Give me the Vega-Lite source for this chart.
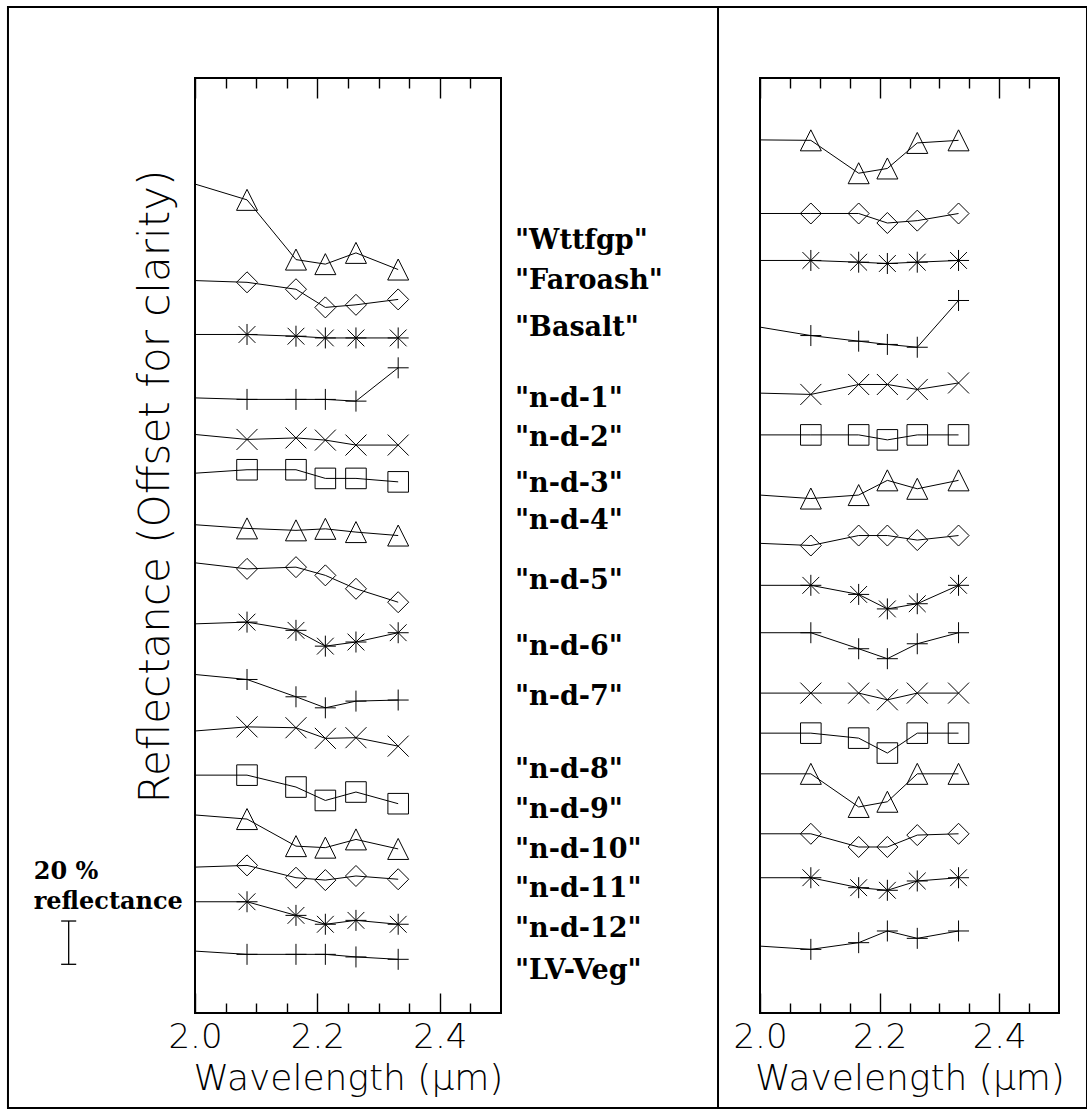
{
  "$schema": "https://vega.github.io/schema/vega-lite/v6.json",
  "background": "white",
  "padding": {"left": 5, "top": 5, "right": 1, "bottom": 2},
  "bounds": "flush",
  "spacing": 259,
  "config": {
    "view": {"stroke": "black", "strokeWidth": 2},
    "axis": {
      "grid": false, "domain": false,
      "labelFont": "DejaVu Sans", "labelFontWeight": 200, "labelFontSize": 34, "labelColor": "black",
      "titleFont": "DejaVu Sans", "titleFontWeight": 200, "titleFontSize": 36, "titleColor": "black",
      "tickColor": "black", "tickWidth": 1.4
    }
  },
  "datasets": {
    "left": [
      {"sample":"Wttfgp","sym":"tri","wl":2.0,"r":383.0},{"sample":"Wttfgp","sym":"tri","wl":2.085,"r":375.7},{"sample":"Wttfgp","sym":"tri","wl":2.165,"r":348.1},{"sample":"Wttfgp","sym":"tri","wl":2.213,"r":346.0},{"sample":"Wttfgp","sym":"tri","wl":2.263,"r":351.2},{"sample":"Wttfgp","sym":"tri","wl":2.332,"r":343.5},
      {"sample":"Faroash","sym":"dia","wl":2.0,"r":338.4},{"sample":"Faroash","sym":"dia","wl":2.085,"r":337.6},{"sample":"Faroash","sym":"dia","wl":2.165,"r":334.4},{"sample":"Faroash","sym":"dia","wl":2.213,"r":326.0},{"sample":"Faroash","sym":"dia","wl":2.263,"r":327.2},{"sample":"Faroash","sym":"dia","wl":2.332,"r":329.7},
      {"sample":"Basalt","sym":"ast","wl":2.0,"r":313.5},{"sample":"Basalt","sym":"ast","wl":2.085,"r":313.5},{"sample":"Basalt","sym":"ast","wl":2.165,"r":312.7},{"sample":"Basalt","sym":"ast","wl":2.213,"r":311.9},{"sample":"Basalt","sym":"ast","wl":2.263,"r":311.9},{"sample":"Basalt","sym":"ast","wl":2.332,"r":311.9},
      {"sample":"n-d-1","sym":"plus","wl":2.0,"r":284.2},{"sample":"n-d-1","sym":"plus","wl":2.085,"r":283.5},{"sample":"n-d-1","sym":"plus","wl":2.165,"r":283.5},{"sample":"n-d-1","sym":"plus","wl":2.213,"r":283.5},{"sample":"n-d-1","sym":"plus","wl":2.263,"r":282.7},{"sample":"n-d-1","sym":"plus","wl":2.332,"r":298.1},
      {"sample":"n-d-2","sym":"x","wl":2.0,"r":267.3},{"sample":"n-d-2","sym":"x","wl":2.085,"r":265.0},{"sample":"n-d-2","sym":"x","wl":2.165,"r":265.7},{"sample":"n-d-2","sym":"x","wl":2.213,"r":264.7},{"sample":"n-d-2","sym":"x","wl":2.263,"r":262.4},{"sample":"n-d-2","sym":"x","wl":2.332,"r":262.4},
      {"sample":"n-d-3","sym":"sq","wl":2.0,"r":249.4},{"sample":"n-d-3","sym":"sq","wl":2.085,"r":251.0},{"sample":"n-d-3","sym":"sq","wl":2.165,"r":251.0},{"sample":"n-d-3","sym":"sq","wl":2.213,"r":247.0},{"sample":"n-d-3","sym":"sq","wl":2.263,"r":247.0},{"sample":"n-d-3","sym":"sq","wl":2.332,"r":245.4},
      {"sample":"n-d-4","sym":"tri","wl":2.0,"r":225.6},{"sample":"n-d-4","sym":"tri","wl":2.085,"r":223.9},{"sample":"n-d-4","sym":"tri","wl":2.165,"r":223.0},{"sample":"n-d-4","sym":"tri","wl":2.213,"r":223.7},{"sample":"n-d-4","sym":"tri","wl":2.263,"r":222.2},{"sample":"n-d-4","sym":"tri","wl":2.332,"r":220.6},
      {"sample":"n-d-5","sym":"dia","wl":2.0,"r":208.0},{"sample":"n-d-5","sym":"dia","wl":2.085,"r":205.2},{"sample":"n-d-5","sym":"dia","wl":2.165,"r":206.0},{"sample":"n-d-5","sym":"dia","wl":2.213,"r":202.2},{"sample":"n-d-5","sym":"dia","wl":2.263,"r":196.0},{"sample":"n-d-5","sym":"dia","wl":2.332,"r":189.8},
      {"sample":"n-d-6","sym":"ast","wl":2.0,"r":179.8},{"sample":"n-d-6","sym":"ast","wl":2.085,"r":180.6},{"sample":"n-d-6","sym":"ast","wl":2.165,"r":176.8},{"sample":"n-d-6","sym":"ast","wl":2.213,"r":169.5},{"sample":"n-d-6","sym":"ast","wl":2.263,"r":171.4},{"sample":"n-d-6","sym":"ast","wl":2.332,"r":175.7},
      {"sample":"n-d-7","sym":"plus","wl":2.0,"r":156.4},{"sample":"n-d-7","sym":"plus","wl":2.085,"r":154.1},{"sample":"n-d-7","sym":"plus","wl":2.165,"r":146.1},{"sample":"n-d-7","sym":"plus","wl":2.213,"r":141.0},{"sample":"n-d-7","sym":"plus","wl":2.263,"r":144.1},{"sample":"n-d-7","sym":"plus","wl":2.332,"r":144.6},
      {"sample":"n-d-8","sym":"x","wl":2.0,"r":130.3},{"sample":"n-d-8","sym":"x","wl":2.085,"r":132.2},{"sample":"n-d-8","sym":"x","wl":2.165,"r":131.8},{"sample":"n-d-8","sym":"x","wl":2.213,"r":126.9},{"sample":"n-d-8","sym":"x","wl":2.263,"r":127.2},{"sample":"n-d-8","sym":"x","wl":2.332,"r":123.3},
      {"sample":"n-d-9","sym":"sq","wl":2.0,"r":109.9},{"sample":"n-d-9","sym":"sq","wl":2.085,"r":109.9},{"sample":"n-d-9","sym":"sq","wl":2.165,"r":104.4},{"sample":"n-d-9","sym":"sq","wl":2.213,"r":98.2},{"sample":"n-d-9","sym":"sq","wl":2.263,"r":102.1},{"sample":"n-d-9","sym":"sq","wl":2.332,"r":96.7},
      {"sample":"n-d-10","sym":"tri","wl":2.0,"r":91.5},{"sample":"n-d-10","sym":"tri","wl":2.085,"r":89.6},{"sample":"n-d-10","sym":"tri","wl":2.165,"r":77.1},{"sample":"n-d-10","sym":"tri","wl":2.213,"r":76.4},{"sample":"n-d-10","sym":"tri","wl":2.263,"r":80.2},{"sample":"n-d-10","sym":"tri","wl":2.332,"r":75.8},
      {"sample":"n-d-11","sym":"dia","wl":2.0,"r":67.4},{"sample":"n-d-11","sym":"dia","wl":2.085,"r":68.2},{"sample":"n-d-11","sym":"dia","wl":2.165,"r":62.5},{"sample":"n-d-11","sym":"dia","wl":2.213,"r":61.4},{"sample":"n-d-11","sym":"dia","wl":2.263,"r":63.3},{"sample":"n-d-11","sym":"dia","wl":2.332,"r":61.8},
      {"sample":"n-d-12","sym":"ast","wl":2.0,"r":51.4},{"sample":"n-d-12","sym":"ast","wl":2.085,"r":51.4},{"sample":"n-d-12","sym":"ast","wl":2.165,"r":45.1},{"sample":"n-d-12","sym":"ast","wl":2.213,"r":41.0},{"sample":"n-d-12","sym":"ast","wl":2.263,"r":42.8},{"sample":"n-d-12","sym":"ast","wl":2.332,"r":41.0},
      {"sample":"LV-Veg","sym":"plus","wl":2.0,"r":28.6},{"sample":"LV-Veg","sym":"plus","wl":2.085,"r":27.1},{"sample":"LV-Veg","sym":"plus","wl":2.165,"r":27.1},{"sample":"LV-Veg","sym":"plus","wl":2.213,"r":27.1},{"sample":"LV-Veg","sym":"plus","wl":2.263,"r":25.9},{"sample":"LV-Veg","sym":"plus","wl":2.332,"r":24.8}
    ],
    "right": [
      {"sample":"Wttfgp","sym":"tri","wl":2.0,"r":403.4},{"sample":"Wttfgp","sym":"tri","wl":2.085,"r":403.2},{"sample":"Wttfgp","sym":"tri","wl":2.165,"r":388.0},{"sample":"Wttfgp","sym":"tri","wl":2.213,"r":390.2},{"sample":"Wttfgp","sym":"tri","wl":2.263,"r":402.0},{"sample":"Wttfgp","sym":"tri","wl":2.332,"r":403.2},
      {"sample":"Faroash","sym":"dia","wl":2.0,"r":369.4},{"sample":"Faroash","sym":"dia","wl":2.085,"r":369.4},{"sample":"Faroash","sym":"dia","wl":2.165,"r":369.4},{"sample":"Faroash","sym":"dia","wl":2.213,"r":365.0},{"sample":"Faroash","sym":"dia","wl":2.263,"r":366.1},{"sample":"Faroash","sym":"dia","wl":2.332,"r":369.4},
      {"sample":"Basalt","sym":"ast","wl":2.0,"r":347.7},{"sample":"Basalt","sym":"ast","wl":2.085,"r":347.7},{"sample":"Basalt","sym":"ast","wl":2.165,"r":346.9},{"sample":"Basalt","sym":"ast","wl":2.213,"r":346.3},{"sample":"Basalt","sym":"ast","wl":2.263,"r":346.9},{"sample":"Basalt","sym":"ast","wl":2.332,"r":347.7},
      {"sample":"n-d-1","sym":"plus","wl":2.0,"r":316.9},{"sample":"n-d-1","sym":"plus","wl":2.085,"r":313.0},{"sample":"n-d-1","sym":"plus","wl":2.165,"r":310.4},{"sample":"n-d-1","sym":"plus","wl":2.213,"r":308.9},{"sample":"n-d-1","sym":"plus","wl":2.263,"r":307.6},{"sample":"n-d-1","sym":"plus","wl":2.332,"r":329.2},
      {"sample":"n-d-2","sym":"x","wl":2.0,"r":286.4},{"sample":"n-d-2","sym":"x","wl":2.085,"r":285.8},{"sample":"n-d-2","sym":"x","wl":2.165,"r":290.4},{"sample":"n-d-2","sym":"x","wl":2.213,"r":290.4},{"sample":"n-d-2","sym":"x","wl":2.263,"r":288.1},{"sample":"n-d-2","sym":"x","wl":2.332,"r":291.1},
      {"sample":"n-d-3","sym":"sq","wl":2.0,"r":267.1},{"sample":"n-d-3","sym":"sq","wl":2.085,"r":267.1},{"sample":"n-d-3","sym":"sq","wl":2.165,"r":267.1},{"sample":"n-d-3","sym":"sq","wl":2.213,"r":264.8},{"sample":"n-d-3","sym":"sq","wl":2.263,"r":267.1},{"sample":"n-d-3","sym":"sq","wl":2.332,"r":267.1},
      {"sample":"n-d-4","sym":"tri","wl":2.0,"r":239.3},{"sample":"n-d-4","sym":"tri","wl":2.085,"r":237.7},{"sample":"n-d-4","sym":"tri","wl":2.165,"r":239.3},{"sample":"n-d-4","sym":"tri","wl":2.213,"r":246.1},{"sample":"n-d-4","sym":"tri","wl":2.263,"r":242.2},{"sample":"n-d-4","sym":"tri","wl":2.332,"r":246.1},
      {"sample":"n-d-5","sym":"dia","wl":2.0,"r":217.0},{"sample":"n-d-5","sym":"dia","wl":2.085,"r":216.0},{"sample":"n-d-5","sym":"dia","wl":2.165,"r":220.6},{"sample":"n-d-5","sym":"dia","wl":2.213,"r":220.6},{"sample":"n-d-5","sym":"dia","wl":2.263,"r":218.5},{"sample":"n-d-5","sym":"dia","wl":2.332,"r":220.6},
      {"sample":"n-d-6","sym":"ast","wl":2.0,"r":197.6},{"sample":"n-d-6","sym":"ast","wl":2.085,"r":197.6},{"sample":"n-d-6","sym":"ast","wl":2.165,"r":193.4},{"sample":"n-d-6","sym":"ast","wl":2.213,"r":186.7},{"sample":"n-d-6","sym":"ast","wl":2.263,"r":189.1},{"sample":"n-d-6","sym":"ast","wl":2.332,"r":197.6},
      {"sample":"n-d-7","sym":"plus","wl":2.0,"r":175.7},{"sample":"n-d-7","sym":"plus","wl":2.085,"r":175.7},{"sample":"n-d-7","sym":"plus","wl":2.165,"r":168.3},{"sample":"n-d-7","sym":"plus","wl":2.213,"r":163.7},{"sample":"n-d-7","sym":"plus","wl":2.263,"r":170.6},{"sample":"n-d-7","sym":"plus","wl":2.332,"r":175.7},
      {"sample":"n-d-8","sym":"x","wl":2.0,"r":147.8},{"sample":"n-d-8","sym":"x","wl":2.085,"r":147.8},{"sample":"n-d-8","sym":"x","wl":2.165,"r":147.8},{"sample":"n-d-8","sym":"x","wl":2.213,"r":144.7},{"sample":"n-d-8","sym":"x","wl":2.263,"r":147.8},{"sample":"n-d-8","sym":"x","wl":2.332,"r":147.8},
      {"sample":"n-d-9","sym":"sq","wl":2.0,"r":129.3},{"sample":"n-d-9","sym":"sq","wl":2.085,"r":129.3},{"sample":"n-d-9","sym":"sq","wl":2.165,"r":127.0},{"sample":"n-d-9","sym":"sq","wl":2.213,"r":120.1},{"sample":"n-d-9","sym":"sq","wl":2.263,"r":129.3},{"sample":"n-d-9","sym":"sq","wl":2.332,"r":129.3},
      {"sample":"n-d-10","sym":"tri","wl":2.0,"r":110.5},{"sample":"n-d-10","sym":"tri","wl":2.085,"r":110.5},{"sample":"n-d-10","sym":"tri","wl":2.165,"r":95.2},{"sample":"n-d-10","sym":"tri","wl":2.213,"r":97.6},{"sample":"n-d-10","sym":"tri","wl":2.263,"r":110.5},{"sample":"n-d-10","sym":"tri","wl":2.332,"r":110.5},
      {"sample":"n-d-11","sym":"dia","wl":2.0,"r":82.8},{"sample":"n-d-11","sym":"dia","wl":2.085,"r":82.8},{"sample":"n-d-11","sym":"dia","wl":2.165,"r":76.7},{"sample":"n-d-11","sym":"dia","wl":2.213,"r":76.7},{"sample":"n-d-11","sym":"dia","wl":2.263,"r":82.2},{"sample":"n-d-11","sym":"dia","wl":2.332,"r":82.8},
      {"sample":"n-d-12","sym":"ast","wl":2.0,"r":62.5},{"sample":"n-d-12","sym":"ast","wl":2.085,"r":62.5},{"sample":"n-d-12","sym":"ast","wl":2.165,"r":57.9},{"sample":"n-d-12","sym":"ast","wl":2.213,"r":56.7},{"sample":"n-d-12","sym":"ast","wl":2.263,"r":61.0},{"sample":"n-d-12","sym":"ast","wl":2.332,"r":62.5},
      {"sample":"LV-Veg","sym":"plus","wl":2.0,"r":30.9},{"sample":"LV-Veg","sym":"plus","wl":2.085,"r":29.4},{"sample":"LV-Veg","sym":"plus","wl":2.165,"r":32.5},{"sample":"LV-Veg","sym":"plus","wl":2.213,"r":37.9},{"sample":"LV-Veg","sym":"plus","wl":2.263,"r":34.5},{"sample":"LV-Veg","sym":"plus","wl":2.332,"r":37.9}
    ],
    "labels": [
      {"label":"\"Wttfgp\"","ly":352.8},{"label":"\"Faroash\"","ly":334.3},{"label":"\"Basalt\"","ly":313.0},
      {"label":"\"n-d-1\"","ly":279.8},{"label":"\"n-d-2\"","ly":262.2},{"label":"\"n-d-3\"","ly":240.5},{"label":"\"n-d-4\"","ly":223.4},
      {"label":"\"n-d-5\"","ly":195.7},{"label":"\"n-d-6\"","ly":165.6},{"label":"\"n-d-7\"","ly":142.1},{"label":"\"n-d-8\"","ly":108.8},
      {"label":"\"n-d-9\"","ly":90.3},{"label":"\"n-d-10\"","ly":71.8},{"label":"\"n-d-11\"","ly":53.4},{"label":"\"n-d-12\"","ly":34.9},
      {"label":"\"LV-Veg\"","ly":15.5}
    ],
    "notes": [
      {"note":"20 %","ly":61.9},{"note":"reflectance","ly":47.9}
    ]
  },
  "hconcat": [
    {
      "width": 306,
      "height": 935,
      "resolve": {"axis": {"x": "independent", "y": "independent"}},
      "layer": [
        {
          "data": {"name": "left"},
          "mark": {"type": "line", "color": "black", "strokeWidth": 1},
          "encoding": {
            "x": {"field": "wl", "type": "quantitative", "scale": {"domain": [2.0, 2.5], "nice": false, "zero": false},
              "axis": {"orient": "bottom", "values": [2.0,2.05,2.1,2.15,2.2,2.25,2.3,2.35,2.4,2.45],
                "tickSize": {"condition": {"test": "abs(datum.value*5-round(datum.value*5))<0.001", "value": -20}, "value": -10},
                "labelExpr": "abs(datum.value*5-round(datum.value*5))<0.001 ? format(datum.value,'.1f') : ''",
                "labelFlush": false, "labelOverlap": false, "labelPadding": 27, "labelBaseline": "top",
                "title": "Wavelength (μm)", "titleY": 76, "titleBaseline": "alphabetic"}},
            "y": {"field": "r", "type": "quantitative", "scale": {"domain": [0, 432], "nice": false, "zero": false},
              "axis": {"title": "Reflectance (Offset for clarity)", "ticks": false, "labels": false, "domain": false,
                "titleFontSize": 42,
                "titleX": -27, "titleY": 408, "titleAngle": -90, "titleAlign": "center", "titleBaseline": "alphabetic"}},
            "detail": {"field": "sample"}
          }
        },
        {
          "data": {"name": "left"},
          "transform": [{"filter": "datum.wl > 2.001"}],
          "mark": {"type": "point", "filled": false, "color": "black", "strokeWidth": 1, "size": 441, "opacity": 1},
          "encoding": {
            "x": {"field": "wl", "type": "quantitative", "scale": {"domain": [2.0, 2.5], "nice": false, "zero": false},
              "axis": {"orient": "top", "values": [2.0,2.05,2.1,2.15,2.2,2.25,2.3,2.35,2.4,2.45],
                "tickSize": {"condition": {"test": "abs(datum.value*5-round(datum.value*5))<0.001", "value": -20}, "value": -10},
                "labels": false, "title": null}},
            "y": {"field": "r", "type": "quantitative", "scale": {"domain": [0, 432], "nice": false, "zero": false}, "axis": null},
            "shape": {"field": "sym", "type": "nominal", "legend": null,
              "scale": {"domain": ["tri","dia","ast","plus","x","sq"],
                "range": ["M-1,1L0,-1L1,1Z", "M0,-1L1,0L0,1L-1,0Z", "M-1,0H1M0,-1V1M-0.8,-0.8L0.8,0.8M-0.8,0.8L0.8,-0.8", "M-1,0H1M0,-1V1", "M-1,-1L1,1M-1,1L1,-1", "M-0.98,-0.98H0.98V0.98H-0.98Z"]}}
          }
        },
        {
          "data": {"name": "labels"},
          "mark": {"type": "text", "align": "left", "baseline": "alphabetic", "font": "DejaVu Serif", "fontWeight": "bold", "fontSize": 27, "color": "black"},
          "encoding": {
            "x": {"datum": 2.5229, "type": "quantitative", "scale": {"domain": [2.0, 2.5], "nice": false, "zero": false}, "axis": null},
            "y": {"field": "ly", "type": "quantitative", "scale": {"domain": [0, 432], "nice": false, "zero": false}, "axis": null},
            "text": {"field": "label"}
          }
        },
        {
          "data": {"name": "notes"},
          "mark": {"type": "text", "align": "left", "baseline": "alphabetic", "font": "DejaVu Serif", "fontWeight": "bold", "fontSize": 24, "color": "black"},
          "encoding": {
            "x": {"datum": 1.7364, "type": "quantitative", "scale": {"domain": [2.0, 2.5], "nice": false, "zero": false}, "axis": null},
            "y": {"field": "ly", "type": "quantitative", "scale": {"domain": [0, 432], "nice": false, "zero": false}, "axis": null},
            "text": {"field": "note"}
          }
        },
        {
          "data": {"values": [{}]},
          "mark": {"type": "rule", "color": "black", "strokeWidth": 1.3},
          "encoding": {
            "x": {"datum": 1.7936, "type": "quantitative", "scale": {"domain": [2.0, 2.5], "nice": false, "zero": false}, "axis": null},
            "y": {"datum": 22.5, "type": "quantitative", "scale": {"domain": [0, 432], "nice": false, "zero": false}, "axis": null},
            "y2": {"datum": 42.5}
          }
        },
        {
          "data": {"values": [{}]},
          "mark": {"type": "rule", "color": "black", "strokeWidth": 1.3},
          "encoding": {
            "x": {"datum": 1.7813, "type": "quantitative", "scale": {"domain": [2.0, 2.5], "nice": false, "zero": false}, "axis": null},
            "x2": {"datum": 1.8059},
            "y": {"datum": 22.5, "type": "quantitative", "scale": {"domain": [0, 432], "nice": false, "zero": false}, "axis": null}
          }
        },
        {
          "data": {"values": [{}]},
          "mark": {"type": "rule", "color": "black", "strokeWidth": 1.3},
          "encoding": {
            "x": {"datum": 1.7813, "type": "quantitative", "scale": {"domain": [2.0, 2.5], "nice": false, "zero": false}, "axis": null},
            "x2": {"datum": 1.8059},
            "y": {"datum": 42.5, "type": "quantitative", "scale": {"domain": [0, 432], "nice": false, "zero": false}, "axis": null}
          }
        },
        {
          "data": {"values": [{}]},
          "mark": {"type": "rect", "filled": false, "color": "black", "strokeWidth": 2},
          "encoding": {
            "x": {"datum": 1.6944, "type": "quantitative", "scale": {"domain": [2.0, 2.5], "nice": false, "zero": false}, "axis": null},
            "x2": {"datum": 3.4575},
            "y": {"datum": -43.9, "type": "quantitative", "scale": {"domain": [0, 432], "nice": false, "zero": false}, "axis": null},
            "y2": {"datum": 464.8}
          }
        },
        {
          "data": {"values": [{}]},
          "mark": {"type": "rule", "color": "black", "strokeWidth": 2},
          "encoding": {
            "x": {"datum": 2.8546, "type": "quantitative", "scale": {"domain": [2.0, 2.5], "nice": false, "zero": false}, "axis": null},
            "y": {"datum": -43.9, "type": "quantitative", "scale": {"domain": [0, 432], "nice": false, "zero": false}, "axis": null},
            "y2": {"datum": 464.8}
          }
        }
      ]
    },
    {
      "width": 299,
      "height": 935,
      "resolve": {"axis": {"x": "independent", "y": "independent"}},
      "layer": [
        {
          "data": {"name": "right"},
          "mark": {"type": "line", "color": "black", "strokeWidth": 1},
          "encoding": {
            "x": {"field": "wl", "type": "quantitative", "scale": {"domain": [2.0, 2.5], "nice": false, "zero": false},
              "axis": {"orient": "bottom", "values": [2.0,2.05,2.1,2.15,2.2,2.25,2.3,2.35,2.4,2.45],
                "tickSize": {"condition": {"test": "abs(datum.value*5-round(datum.value*5))<0.001", "value": -20}, "value": -10},
                "labelExpr": "abs(datum.value*5-round(datum.value*5))<0.001 ? format(datum.value,'.1f') : ''",
                "labelFlush": false, "labelOverlap": false, "labelPadding": 27, "labelBaseline": "top",
                "title": "Wavelength (μm)", "titleY": 76, "titleBaseline": "alphabetic"}},
            "y": {"field": "r", "type": "quantitative", "scale": {"domain": [0, 432], "nice": false, "zero": false}, "axis": null},
            "detail": {"field": "sample"}
          }
        },
        {
          "data": {"name": "right"},
          "transform": [{"filter": "datum.wl > 2.001"}],
          "mark": {"type": "point", "filled": false, "color": "black", "strokeWidth": 1, "size": 441, "opacity": 1},
          "encoding": {
            "x": {"field": "wl", "type": "quantitative", "scale": {"domain": [2.0, 2.5], "nice": false, "zero": false},
              "axis": {"orient": "top", "values": [2.0,2.05,2.1,2.15,2.2,2.25,2.3,2.35,2.4,2.45],
                "tickSize": {"condition": {"test": "abs(datum.value*5-round(datum.value*5))<0.001", "value": -20}, "value": -10},
                "labels": false, "title": null}},
            "y": {"field": "r", "type": "quantitative", "scale": {"domain": [0, 432], "nice": false, "zero": false}, "axis": null},
            "shape": {"field": "sym", "type": "nominal", "legend": null,
              "scale": {"domain": ["tri","dia","ast","plus","x","sq"],
                "range": ["M-1,1L0,-1L1,1Z", "M0,-1L1,0L0,1L-1,0Z", "M-1,0H1M0,-1V1M-0.8,-0.8L0.8,0.8M-0.8,0.8L0.8,-0.8", "M-1,0H1M0,-1V1", "M-1,-1L1,1M-1,1L1,-1", "M-0.98,-0.98H0.98V0.98H-0.98Z"]}}
          }
        }
      ]
    }
  ]
}
